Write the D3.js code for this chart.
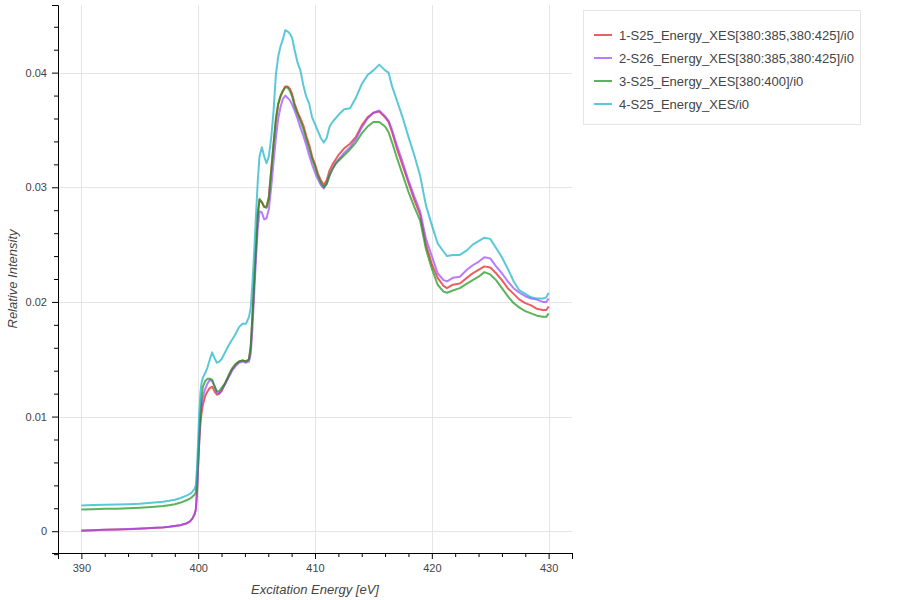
<!DOCTYPE html>
<html><head><meta charset="utf-8">
<script src="https://cdn.jsdelivr.net/npm/d3@7"></script>
<style>body{margin:0;background:#fff;} text{font-family:"Liberation Sans",Arial,Helvetica,sans-serif;}</style>
</head><body><svg id="c" width="900" height="600"></svg>
<script>
const energy = [390,391,392,393,394,395,396,397,397.5,398,398.5,399,399.3,399.5,399.7,399.8,399.9,400.0,400.1,400.2,400.3,400.4,400.6,400.8,401.0,401.2,401.4,401.6,401.8,402.0,402.3,402.6,402.9,403.2,403.5,403.8,404.1,404.35,404.5,404.65,404.8,404.95,405.1,405.25,405.45,405.65,405.85,406.05,406.25,406.45,406.65,406.85,407.05,407.25,407.45,407.65,407.85,408.05,408.25,408.5,408.75,409.0,409.25,409.5,409.75,410.0,410.25,410.5,410.75,411.0,411.25,411.5,411.75,412.0,412.5,413.0,413.5,414.0,414.5,415.0,415.5,416.0,416.3,416.6,417.0,417.5,418.0,418.5,419.0,419.5,420.0,420.5,421.0,421.3,421.8,422.4,423.0,423.5,424.0,424.5,425.0,425.5,426.0,426.5,427.0,427.5,428.0,428.5,429.0,429.5,429.8,430.0];

const s1 = [0.00005,0.00008,0.00012,0.00015,0.00018,0.00022,0.00027,0.00033,0.00038,0.00045,0.00053,0.00068,0.00085,0.0011,0.0015,0.0019,0.0035,0.0058,0.0079,0.0095,0.0104,0.0110,0.0118,0.0122,0.0125,0.0126,0.0122,0.0119,0.0120,0.0122,0.0129,0.0135,0.0141,0.0145,0.0148,0.0149,0.0148,0.0150,0.0160,0.0188,0.0218,0.0247,0.0275,0.0289,0.0287,0.0283,0.0283,0.0292,0.0315,0.0337,0.0358,0.0372,0.0379,0.0384,0.0388,0.0388,0.0386,0.0381,0.0373,0.0366,0.0360,0.0354,0.0345,0.0337,0.0327,0.0320,0.0312,0.0306,0.0302,0.0306,0.0315,0.0320,0.0324,0.0328,0.0334,0.0338,0.0344,0.0354,0.0361,0.0365,0.0366,0.0361,0.0357,0.0348,0.0334,0.0319,0.0304,0.0289,0.0276,0.0250,0.0233,0.0221,0.0214,0.0212,0.0215,0.0216,0.0221,0.0225,0.0228,0.0231,0.0230,0.0225,0.0219,0.0212,0.0207,0.0202,0.0199,0.0197,0.0194,0.0193,0.0193,0.0196];

const s2 = [0.00006,0.00009,0.00012,0.00015,0.00019,0.00023,0.00028,0.00034,0.00039,0.00046,0.00054,0.00069,0.00086,0.0011,0.0015,0.0019,0.0033,0.0057,0.0082,0.0100,0.0111,0.0117,0.0124,0.0129,0.0132,0.0131,0.0127,0.0121,0.0120,0.0123,0.0128,0.0134,0.0140,0.0144,0.0147,0.0148,0.0147,0.0148,0.0155,0.0178,0.0208,0.0238,0.0264,0.0279,0.0278,0.0272,0.0273,0.0281,0.0300,0.0322,0.0343,0.0360,0.0370,0.0377,0.0380,0.0378,0.0376,0.0372,0.0367,0.0360,0.0352,0.0345,0.0337,0.0328,0.0320,0.0313,0.0307,0.0302,0.0299,0.0303,0.0310,0.0316,0.0321,0.0324,0.0330,0.0335,0.0342,0.0352,0.0360,0.0365,0.0367,0.0362,0.0358,0.0350,0.0337,0.0322,0.0306,0.0292,0.0279,0.0255,0.0240,0.0225,0.0219,0.0218,0.0221,0.0222,0.0228,0.0232,0.0235,0.0239,0.0238,0.0231,0.0225,0.0218,0.0212,0.0208,0.0205,0.0203,0.0202,0.0200,0.0200,0.0203];

const s3 = [0.0019,0.00192,0.00195,0.00197,0.0020,0.00205,0.00212,0.0022,0.00227,0.00235,0.0025,0.0027,0.00285,0.0030,0.0032,0.0034,0.0046,0.0066,0.0087,0.0104,0.0118,0.0126,0.0131,0.0133,0.0133,0.0132,0.0126,0.0122,0.0122,0.0125,0.0129,0.0136,0.0142,0.0146,0.0148,0.0149,0.0148,0.0150,0.0162,0.0190,0.0220,0.0248,0.0277,0.0290,0.0287,0.0283,0.0282,0.0290,0.0314,0.0338,0.0360,0.0373,0.0380,0.0384,0.0387,0.0387,0.0384,0.0379,0.0371,0.0364,0.0358,0.0351,0.0342,0.0334,0.0325,0.0318,0.0310,0.0304,0.0300,0.0303,0.0311,0.0316,0.0320,0.0323,0.0328,0.0333,0.0339,0.0347,0.0353,0.0357,0.0357,0.0353,0.0348,0.0339,0.0326,0.0311,0.0296,0.0283,0.0271,0.0246,0.0229,0.0215,0.0209,0.0208,0.0210,0.0212,0.0216,0.0219,0.0222,0.0226,0.0224,0.0219,0.0212,0.0205,0.0199,0.0195,0.0192,0.0190,0.0188,0.0187,0.0187,0.0190];

const s4 = [0.00225,0.00228,0.0023,0.00232,0.00235,0.0024,0.00248,0.00258,0.00265,0.00275,0.0029,0.0031,0.00325,0.00345,0.0037,0.0040,0.0055,0.0080,0.0105,0.0122,0.0130,0.0134,0.0138,0.0143,0.0150,0.0156,0.0151,0.0147,0.0148,0.0150,0.0156,0.0162,0.0167,0.0172,0.0178,0.0181,0.0181,0.0187,0.0195,0.0217,0.0245,0.0276,0.0305,0.0327,0.0335,0.0327,0.0321,0.0327,0.0343,0.0366,0.0398,0.0414,0.0423,0.0429,0.0437,0.0436,0.0434,0.0430,0.0420,0.0409,0.0402,0.0389,0.0379,0.0373,0.0361,0.0355,0.0349,0.0343,0.0339,0.0343,0.0353,0.0357,0.0360,0.0363,0.0368,0.0369,0.0378,0.0390,0.0398,0.0402,0.0407,0.0402,0.0400,0.0388,0.0376,0.0361,0.0344,0.0328,0.0310,0.0284,0.0267,0.0251,0.0244,0.0240,0.0241,0.0241,0.0245,0.0250,0.0253,0.0256,0.0255,0.0247,0.0239,0.0229,0.0218,0.0210,0.0207,0.0204,0.0203,0.0203,0.0204,0.0208];

const seriesNames = ["1-S25_Energy_XES[380:385,380:425]/i0","2-S26_Energy_XES[380:385,380:425]/i0","3-S25_Energy_XES[380:400]/i0","4-S25_Energy_XES/i0"];
const seriesValues = [s1, s2, s3, s4];
const seriesColors = ["#e41b1b","#9844ff","#169316","#15b1c7"];
const xTicks = [390,400,410,420,430];
const yTicks = [0,0.01,0.02,0.03,0.04];
const xLabel = "Excitation Energy [eV]";
const yLabel = "Relative Intensity";

const svg = d3.select("#c");
const L = 58, R = 572, T = 5, B = 553;
const x = d3.scaleLinear().domain([388, 432]).range([L, R]);
const y = d3.scaleLinear().domain([-0.0019, 0.0459]).range([B, T]);

// grid
const g = svg.append("g");
g.selectAll(".gx").data(xTicks).join("line")
  .attr("x1", d => Math.round(x(d)) + 0.5).attr("x2", d => Math.round(x(d)) + 0.5)
  .attr("y1", T).attr("y2", B).attr("stroke", "#e5e5e5");
g.selectAll(".gy").data(yTicks).join("line")
  .attr("y1", d => Math.round(y(d)) + 0.5).attr("y2", d => Math.round(y(d)) + 0.5)
  .attr("x1", L).attr("x2", R).attr("stroke", "#e5e5e5");

// lines
const line = d3.line().x((d, i) => x(energy[i])).y(d => y(d));
svg.append("g").selectAll("path").data(seriesValues).join("path")
  .attr("d", d => line(d)).attr("fill", "none")
  .attr("stroke", (d, i) => seriesColors[i]).attr("stroke-opacity", 0.7)
  .attr("stroke-width", 2).attr("stroke-linejoin", "round");

// axes
const fmtY = d => d === 0 ? "0" : d3.format(".2f")(d);
const xAxis = d3.axisBottom(x).tickValues(xTicks).tickSize(6).tickPadding(5).tickFormat(d3.format("d"));
const xMinor = d3.axisBottom(x).tickValues(d3.range(388, 432.1, 2).filter(v => v % 10 !== 0)).tickSize(4).tickFormat("");
const yAxis = d3.axisLeft(y).tickValues(yTicks).tickSize(6).tickPadding(5).tickFormat(fmtY);
const yMinor = d3.axisLeft(y).tickValues(d3.range(-0.002, 0.0451, 0.002).filter(v => Math.abs(Math.round(v * 100) - v * 100) > 1e-6)).tickSize(4).tickFormat("");

function style(sel) {
  sel.select(".domain").attr("stroke", "#000").attr("stroke-width", 1);
  sel.selectAll(".tick line").attr("stroke", "#000");
  sel.selectAll(".tick text").attr("fill", "#444").style("font-size", "11px")
    .style("font-family", '"Liberation Sans",Arial,Helvetica,sans-serif');
}
svg.append("g").attr("transform", `translate(0,${B})`).call(xMinor).call(style).select(".domain").remove();
svg.append("g").attr("transform", `translate(0,${B})`).call(xAxis).call(style);
svg.append("g").attr("transform", `translate(${L},0)`).call(yMinor).call(style).select(".domain").remove();
svg.append("g").attr("transform", `translate(${L},0)`).call(yAxis).call(style);

svg.append("text").attr("x", (L + R) / 2).attr("y", 594).attr("text-anchor", "middle")
  .attr("fill", "#444").style("font-size", "13px").style("font-style", "italic").text(xLabel);
svg.append("text").attr("transform", `translate(17,${(T + B) / 2}) rotate(-90)`).attr("text-anchor", "middle")
  .attr("fill", "#444").style("font-size", "13px").style("font-style", "italic").text(yLabel);

// legend
const lg = svg.append("g");
lg.append("rect").attr("x", 583.5).attr("y", 10.5).attr("width", 277).attr("height", 114)
  .attr("fill", "#fff").attr("stroke", "#e5e5e5");
const items = lg.selectAll(".it").data(seriesNames).join("g").attr("transform", (d, i) => `translate(0,${35 + i * 23})`);
items.append("line").attr("x1", 594).attr("x2", 612).attr("y1", 0).attr("y2", 0)
  .attr("stroke", (d, i) => seriesColors[i]).attr("stroke-opacity", 0.7).attr("stroke-width", 2);
items.append("text").attr("x", 619).attr("y", 0).attr("dy", "0.35em").attr("fill", "#444")
  .style("font-size", "13px").text(d => d);
</script></body></html>
